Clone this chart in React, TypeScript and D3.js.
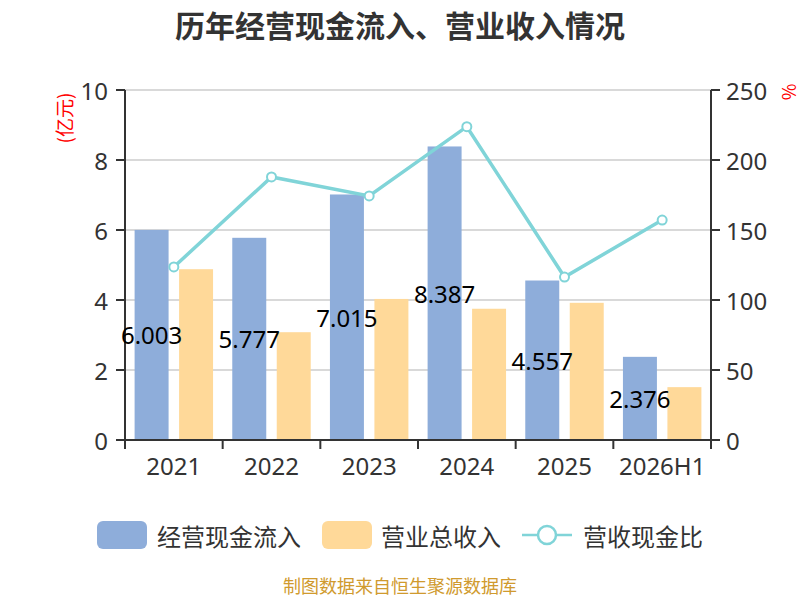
import React from "react";
import * as d3 from "d3";

const categories = ["2021", "2022", "2023", "2024", "2025", "2026H1"];
const cashInflow = [6.003, 5.777, 7.015, 8.387, 4.557, 2.376];
const revenue = [4.88, 3.08, 4.03, 3.75, 3.92, 1.51];
const ratio = [123.6, 187.9, 174.3, 223.8, 116.4, 157.1];
const leftTicks = [0, 2, 4, 6, 8, 10];
const rightTicks = [0, 50, 100, 150, 200, 250];

const W = 800;
const H = 600;
const left = 125;
const right = 711;
const top = 90;
const bottom = 440;

const BLUE = "#8EADDA";
const ORANGE = "#FFD999";
const TEAL = "#80D4D8";
const FONT = "'Noto Sans CJK SC', 'Noto Sans', sans-serif";
const NUMFONT = "'Noto Sans', 'Noto Sans CJK SC', sans-serif";

export default function App() {
  const x = d3.scaleBand<string>().domain(categories).range([left, right]).paddingInner(0).paddingOuter(0);
  const inner = d3
    .scaleBand<string>()
    .domain(["cf", "rev"])
    .range([0, x.bandwidth()])
    .paddingInner(0.236)
    .paddingOuter(0.216);
  const yL = d3.scaleLinear().domain([0, 10]).range([bottom, top]);
  const yR = d3.scaleLinear().domain([0, 250]).range([bottom, top]);
  const line = d3
    .line<number>()
    .x((_, i) => (x(categories[i]) as number) + x.bandwidth() / 2)
    .y((d) => yR(d));

  return (
    <div style={{ position: "absolute", left: 0, top: 0 }}>
      <svg width={W} height={H} style={{ display: "block", fontFamily: FONT }}>
        <rect width={W} height={H} fill="#fff" />
        <text x={400} y={24} textAnchor="middle" dominantBaseline="central" fontSize={30} fontWeight="bold" fill="#333">
          历年经营现金流入、营业收入情况
        </text>

        {/* grid */}
        {leftTicks.map((t) => (
          <line key={"g" + t} x1={left} x2={right} y1={yL(t)} y2={yL(t)} stroke="#ccc" strokeWidth={1.5} />
        ))}

        {/* bars */}
        {categories.map((c, i) => (
          <g key={c}>
            <rect
              x={(x(c) as number) + (inner("cf") as number)}
              y={yL(cashInflow[i])}
              width={inner.bandwidth()}
              height={bottom - yL(cashInflow[i])}
              fill={BLUE}
            />
            <rect
              x={(x(c) as number) + (inner("rev") as number)}
              y={yL(revenue[i])}
              width={inner.bandwidth()}
              height={bottom - yL(revenue[i])}
              fill={ORANGE}
            />
          </g>
        ))}

        {/* axes */}
        <line x1={left} x2={left} y1={top} y2={bottom} stroke="#333" strokeWidth={2} />
        <line x1={right} x2={right} y1={top} y2={bottom} stroke="#333" strokeWidth={2} />
        <line x1={left - 1} x2={right + 1} y1={bottom} y2={bottom} stroke="#333" strokeWidth={2} />
        {leftTicks.map((t) => (
          <g key={"l" + t}>
            <line x1={left - 9} x2={left} y1={yL(t)} y2={yL(t)} stroke="#333" strokeWidth={2} />
            <text
              x={left - 17}
              y={yL(t)}
              textAnchor="end"
              dominantBaseline="central"
              fontSize={24}
              fontFamily={NUMFONT}
              fill="#333"
            >
              {t}
            </text>
          </g>
        ))}
        {rightTicks.map((t) => (
          <g key={"r" + t}>
            <line x1={right} x2={right + 9} y1={yR(t)} y2={yR(t)} stroke="#333" strokeWidth={2} />
            <text
              x={right + 15}
              y={yR(t)}
              textAnchor="start"
              dominantBaseline="central"
              fontSize={24}
              fontFamily={NUMFONT}
              fill="#333"
            >
              {t}
            </text>
          </g>
        ))}
        {[...categories.map((c) => x(c) as number), right].map((px, i) => (
          <line key={"xt" + i} x1={px} x2={px} y1={bottom} y2={bottom + 9} stroke="#333" strokeWidth={2} />
        ))}
        {categories.map((c) => (
          <text
            key={"xl" + c}
            x={(x(c) as number) + x.bandwidth() / 2}
            y={465}
            textAnchor="middle"
            dominantBaseline="central"
            fontSize={24}
            fontFamily={NUMFONT}
            fill="#333"
          >
            {c}
          </text>
        ))}

        {/* axis names */}
        <text
          transform={`translate(63,118) rotate(-90)`}
          textAnchor="middle"
          dominantBaseline="central"
          fontSize={19}
          fill="red"
        >
          (亿元)
        </text>
        <text
          transform={`translate(788,92) rotate(-90)`}
          textAnchor="middle"
          dominantBaseline="central"
          fontSize={18}
          fill="red"
        >
          %
        </text>

        {/* line */}
        <path d={line(ratio) || ""} fill="none" stroke={TEAL} strokeWidth={3.5} />
        {ratio.map((v, i) => (
          <circle
            key={"p" + i}
            cx={(x(categories[i]) as number) + x.bandwidth() / 2}
            cy={yR(v)}
            r={4.5}
            fill="#fff"
            stroke={TEAL}
            strokeWidth={2}
          />
        ))}

        {/* labels */}
        {categories.map((c, i) => (
          <text
            key={"lb" + c}
            x={(x(c) as number) + (inner("cf") as number) + inner.bandwidth() / 2}
            y={(yL(cashInflow[i]) + bottom) / 2}
            textAnchor="middle"
            dominantBaseline="central"
            fontSize={24}
            fontFamily={NUMFONT}
            fill="#000"
          >
            {cashInflow[i].toFixed(3)}
          </text>
        ))}

        {/* legend */}
        <rect x={97} y={521} width={50} height={28} rx={6} fill={BLUE} />
        <text x={157} y={535} dominantBaseline="central" fontSize={24} fill="#333">
          经营现金流入
        </text>
        <rect x={322} y={521} width={50} height={28} rx={6} fill={ORANGE} />
        <text x={381} y={535} dominantBaseline="central" fontSize={24} fill="#333">
          营业总收入
        </text>
        <line x1={522} x2={572} y1={535} y2={535} stroke={TEAL} strokeWidth={2.5} />
        <circle cx={547} cy={535} r={9} fill="#fff" stroke={TEAL} strokeWidth={2.5} />
        <text x={583} y={535} dominantBaseline="central" fontSize={24} fill="#333">
          营收现金比
        </text>

        <text x={400} y={585} textAnchor="middle" dominantBaseline="central" fontSize={18} fill="#D09A2E">
          制图数据来自恒生聚源数据库
        </text>
      </svg>
    </div>
  );
}
